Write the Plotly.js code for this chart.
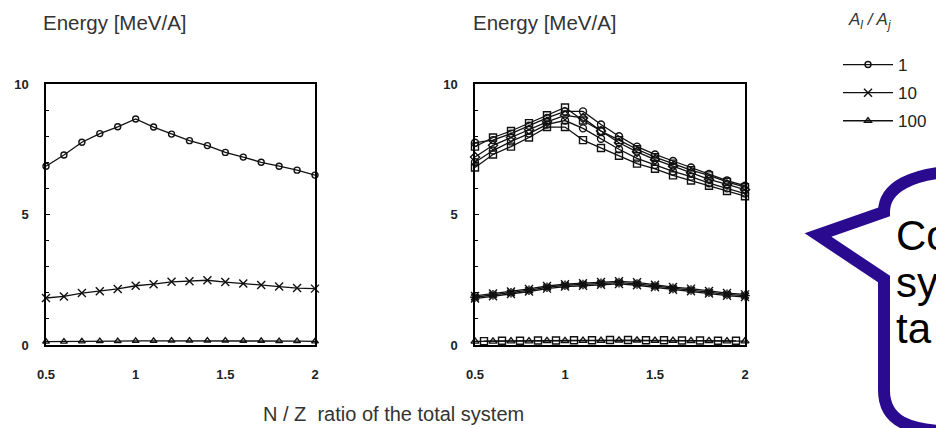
<!DOCTYPE html>
<html>
<head>
<meta charset="utf-8">
<script src="https://cdn.plot.ly/plotly-3.0.1.min.js"></script>
<style>html,body{margin:0;padding:0;background:#fff;}#chart{width:936px;height:428px;}</style>
</head>
<body>
<div id="chart"></div>
<script>
// ---- data ----
const nzRatio = [0.5,0.6,0.7,0.8,0.9,1.0,1.1,1.2,1.3,1.4,1.5,1.6,1.7,1.8,1.9,2.0];
const nzRatioHalf = [0.55,0.65,0.75,0.85,0.95,1.05,1.15,1.25,1.35,1.45,1.55,1.65,1.75,1.85,1.95];
const legendNames = ['1','10','100'];

// left panel
const leftA1   = [6.85,7.28,7.77,8.10,8.36,8.66,8.35,8.08,7.83,7.64,7.38,7.20,7.00,6.85,6.70,6.51];
const leftA10  = [1.80,1.86,1.99,2.06,2.15,2.27,2.33,2.42,2.44,2.48,2.41,2.36,2.30,2.24,2.18,2.16];
const leftA100 = [0.13,0.13,0.14,0.15,0.15,0.16,0.16,0.17,0.17,0.17,0.17,0.16,0.16,0.15,0.15,0.14];

// right panel
const rightA1_a = [7.60,7.95,8.20,8.50,8.80,9.10,8.60,8.20,7.85,7.50,7.20,6.95,6.70,6.50,6.25,6.05];
const rightA1_b = [7.75,7.85,8.10,8.40,8.70,8.95,8.95,8.45,8.00,7.60,7.30,7.05,6.80,6.55,6.30,6.10];
const rightA1_c = [7.20,7.65,7.95,8.25,8.55,8.80,8.70,8.20,7.75,7.40,7.10,6.85,6.60,6.35,6.15,5.95];
const rightA1_d = [7.00,7.45,7.80,8.10,8.45,8.60,8.30,7.90,7.50,7.15,6.90,6.65,6.45,6.20,6.00,5.80];
const rightA1_e = [6.80,7.30,7.60,7.95,8.35,8.35,7.85,7.55,7.25,6.95,6.75,6.50,6.30,6.10,5.90,5.70];
const rightA10_a = [1.88,1.97,2.05,2.15,2.26,2.33,2.37,2.41,2.44,2.40,2.31,2.22,2.16,2.07,1.99,1.94];
const rightA10_b = [1.83,1.92,2.00,2.10,2.21,2.29,2.32,2.36,2.39,2.34,2.26,2.17,2.11,2.02,1.94,1.89];
const rightA10_c = [1.78,1.87,1.95,2.05,2.16,2.24,2.27,2.31,2.34,2.29,2.21,2.12,2.06,1.97,1.89,1.84];
const rightA100_a = [0.14,0.14,0.15,0.15,0.16,0.16,0.17,0.17,0.18,0.18,0.17,0.17,0.16,0.16,0.15,0.15];
const rightA100_b = [0.15,0.16,0.16,0.17,0.17,0.18,0.18,0.19,0.19,0.18,0.18,0.17,0.17,0.16,0.16];

// ---- helpers (pixel -> paper) ----
const W = 936, H = 428;
const px = v => v / W;
const py = v => 1 - v / H;

const BLACK = '#111';
function tr(x, y, ax, sym, name, show, group) {
  return {
    type: 'scatter', mode: 'lines+markers', x: x, y: y,
    xaxis: ax === 1 ? 'x' : 'x2', yaxis: ax === 1 ? 'y' : 'y2',
    name: name || '', showlegend: !!show, legendgroup: group || undefined,
    line: {color: BLACK, width: 1.3},
    marker: {symbol: sym, size: ax === 1 ? 6 : 7, color: BLACK, line: {color: BLACK, width: 1.4}},
    cliponaxis: false, hoverinfo: 'skip'
  };
}

const traces = [
  tr(nzRatio, leftA1, 1, 'circle-open', legendNames[0], true, 'g1'),
  tr(nzRatio, leftA10, 1, 'x-thin-open', legendNames[1], true, 'g2'),
  tr(nzRatio, leftA100, 1, 'triangle-up-open', legendNames[2], true, 'g3'),
  tr(nzRatio, rightA1_a, 2, 'square-open'),
  tr(nzRatio, rightA1_b, 2, 'circle-open'),
  tr(nzRatio, rightA1_c, 2, 'diamond-open'),
  tr(nzRatio, rightA1_d, 2, 'circle-open'),
  tr(nzRatio, rightA1_e, 2, 'square-open'),
  tr(nzRatio, rightA10_a, 2, 'x-thin-open'),
  tr(nzRatio, rightA10_b, 2, 'asterisk-open'),
  tr(nzRatio, rightA10_c, 2, 'x-thin-open'),
  tr(nzRatio, rightA100_a, 2, 'triangle-up-open'),
  tr(nzRatioHalf, rightA100_b, 2, 'square-open')
];
traces.forEach(t => { if (t.marker.symbol.indexOf('x-thin') === 0 || t.marker.symbol.indexOf('asterisk') === 0) t.marker.size = 8; });

const tickFont = {family: 'Liberation Sans, Arial, sans-serif', size: 13, color: '#222', weight: 'bold'};
function xAx(d0, d1, anchor) {
  return {
    domain: [px(d0), px(d1)], range: [0.5, 2], anchor: anchor,
    tickmode: 'array', tickvals: [0.5, 1, 1.5, 2], ticktext: ['0.5', '1', '1.5', '2'],
    ticks: '', showgrid: false, zeroline: false,
    showline: true, mirror: true, linecolor: '#000', linewidth: 1.5,
    tickfont: tickFont, ticklabelstandoff: 17, fixedrange: true
  };
}
function yAx(anchor) {
  return {
    domain: [py(345), py(84)], range: [0, 10], anchor: anchor,
    tickmode: 'linear', tick0: 0, dtick: 5,
    ticks: 'inside', ticklen: 4, tickwidth: 1, tickcolor: '#000',
    minor: {dtick: 1, ticks: 'inside', ticklen: 3, tickwidth: 1, tickcolor: '#000', showgrid: false},
    showgrid: false, zeroline: false,
    showline: true, mirror: true, linecolor: '#000', linewidth: 1.5,
    tickfont: tickFont, ticklabelstandoff: 13, fixedrange: true
  };
}

// speech bubble outline (pixel coords converted to paper)
function P(x, y) { return px(x).toFixed(5) + ',' + py(y).toFixed(5); }
const bubblePath =
  'M' + P(965, 171) +
  ' C' + P(910, 172) + ' ' + P(884, 188) + ' ' + P(884, 212) +
  ' L' + P(818, 235) +
  ' L' + P(884, 279) +
  ' L' + P(884, 390) +
  ' C' + P(884, 420) + ' ' + P(905, 432) + ' ' + P(965, 432) +
  ' L' + P(1010, 432) + ' L' + P(1010, 171) + ' Z';

const textCol = '#333';
const layout = {
  width: W, height: H,
  margin: {l: 0, r: 0, t: 0, b: 0},
  paper_bgcolor: '#fff', plot_bgcolor: '#fff',
  font: {family: 'Liberation Sans, Arial, sans-serif', color: textCol},
  xaxis: xAx(46, 315, 'y'),
  yaxis: yAx('x'),
  xaxis2: xAx(475, 745, 'y2'),
  yaxis2: yAx('x2'),
  showlegend: true,
  legend: {
    x: px(838), y: py(47), xanchor: 'left', yanchor: 'top',
    bgcolor: 'rgba(0,0,0,0)', borderwidth: 0, itemwidth: 50,
    font: {size: 17, color: '#222', family: 'Liberation Sans, Arial, sans-serif'},
    traceorder: 'grouped', tracegroupgap: 3, itemclick: false, itemdoubleclick: false
  },
  shapes: [{
    type: 'path', xref: 'paper', yref: 'paper', path: bubblePath,
    fillcolor: '#fff', line: {color: '#2a0a8f', width: 12}, layer: 'above'
  }],
  annotations: [
    {text: 'Energy [MeV/A]', xref: 'paper', yref: 'paper', x: px(41), y: py(23), xanchor: 'left', yanchor: 'middle', showarrow: false, font: {size: 20.5, color: textCol}},
    {text: 'Energy [MeV/A]', xref: 'paper', yref: 'paper', x: px(471), y: py(23), xanchor: 'left', yanchor: 'middle', showarrow: false, font: {size: 20.5, color: textCol}},
    {text: 'N / Z\u00a0 ratio of the total system', xref: 'paper', yref: 'paper', x: px(393), y: py(414), xanchor: 'center', yanchor: 'middle', showarrow: false, font: {size: 20, color: textCol}},
    {text: '<i>A<sub>l</sub> / A<sub>j</sub></i>', xref: 'paper', yref: 'paper', x: px(846), y: py(21), xanchor: 'left', yanchor: 'middle', showarrow: false, font: {size: 17, color: textCol}},
    {text: 'Co', xref: 'paper', yref: 'paper', x: px(894), y: py(236), xanchor: 'left', yanchor: 'middle', showarrow: false, font: {size: 42, color: '#000'}},
    {text: 'sy', xref: 'paper', yref: 'paper', x: px(894), y: py(282), xanchor: 'left', yanchor: 'middle', showarrow: false, font: {size: 42, color: '#000'}},
    {text: 'ta', xref: 'paper', yref: 'paper', x: px(894), y: py(328), xanchor: 'left', yanchor: 'middle', showarrow: false, font: {size: 42, color: '#000'}}
  ]
};

Plotly.newPlot('chart', traces, layout, {displayModeBar: false});
</script>
</body>
</html>
